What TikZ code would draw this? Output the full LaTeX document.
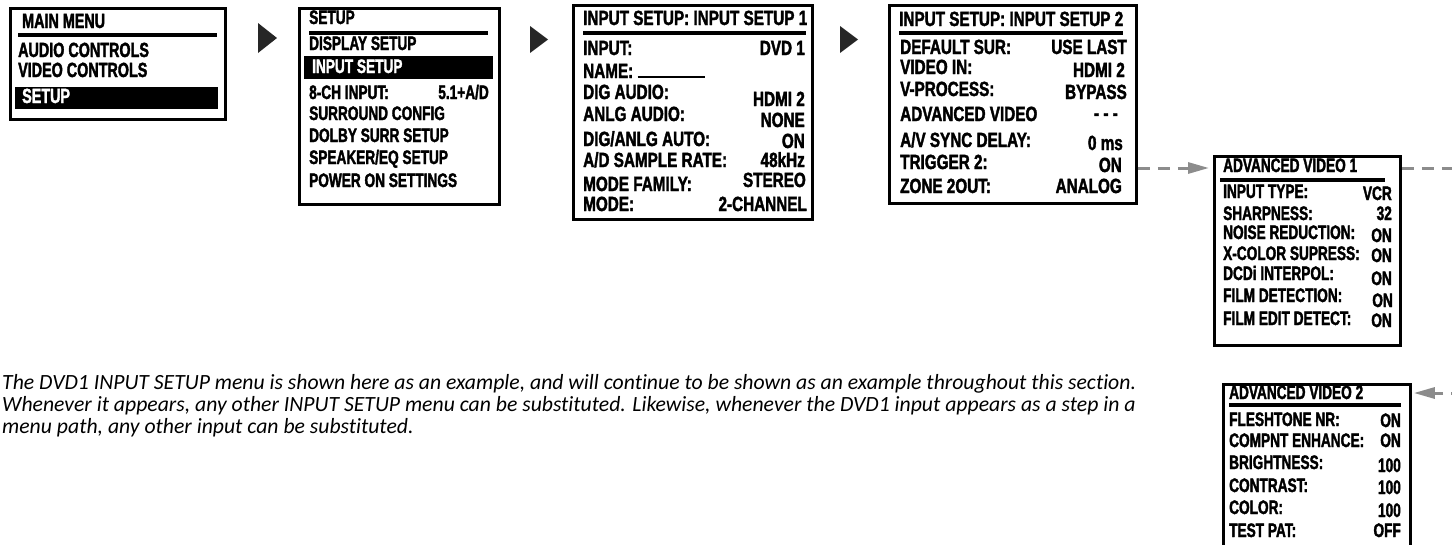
\documentclass[tikz,border=0pt]{standalone}
\usepackage{fontspec}
\usetikzlibrary{arrows.meta}
\newfontfamily\menuA{Liberation Sans Bold}[FakeStretch=0.70,FakeBold=1.8]
\newfontfamily\menuB{Liberation Sans Bold}[FakeStretch=0.745,FakeBold=1.8]
\newfontfamily\menuC{Liberation Sans Bold}[FakeStretch=0.70,FakeBold=1.8]
\newfontfamily\notefnt{Carlito}[Ligatures=NoCommon]
\definecolor{dashgray}{RGB}{140,140,140}
\def\mf{\menuA\fontsize{20}{20}\selectfont}
\tikzset{
  box/.style={draw, line width=2.8pt, inner sep=0, anchor=north west},
  hl/.style={fill=black, inner sep=0, anchor=north west},
  hdr/.style={line width=3.4pt},
  lab/.style={font=\mf, anchor=base west, inner sep=0},
  val/.style={font=\mf, anchor=base east, inner sep=0},
  tri/.style={fill=black!85},
  conn/.style={draw=dashgray, line width=3pt, dash pattern=on 12pt off 8pt},
  tip/.style={-{Triangle[length=21pt,width=11pt,fill=dashgray]}},
  note/.style={font=\notefnt\itshape\fontsize{21.7}{22}\selectfont, anchor=base west, inner sep=0}
}
\begin{document}
\begin{tikzpicture}[x=1pt,y=-1pt]
\useasboundingbox (0,0) rectangle (1452,544);
\clip (0,0) rectangle (1452,544);
% ---------- box 1
\def\mf{\menuA\fontsize{20.5}{20.5}\selectfont}
\node[box, minimum width=215pt, minimum height=111pt] (b1) at (9,7) {};
\node[hl, minimum width=203pt, minimum height=22pt] (h1) at (15,87) {};
\draw[hdr] (18,35) -- (217,35);
\node[lab] (m1) at (22,28) {MAIN MENU};
\node[lab] (m2) at (18,57) {AUDIO CONTROLS};
\node[lab] (m3) at (18,77) {VIDEO CONTROLS};
\node[lab, text=white] (m4) at (22,103) {SETUP};
\fill[tri] (258,23) -- (277,38) -- (258,53) -- cycle;
% ---------- box 2
\def\mf{\menuA\fontsize{19.5}{19.5}\selectfont}
\node[box, minimum width=200pt, minimum height=196pt] (b2) at (298,7) {};
\node[hl, minimum width=189pt, minimum height=23pt] (h2) at (304,56) {};
\draw[hdr] (309,33) -- (488,33);
\node[lab] (s0) at (309,24) {SETUP};
\node[lab] (s1) at (309,50) {DISPLAY SETUP};
\node[lab, text=white] (s2) at (312,73) {INPUT SETUP};
\node[lab] (s3) at (309,99) {8-CH INPUT:};
\node[val] (s3v) at (489,99) {5.1+A/D};
\node[lab] (s4) at (309,120) {SURROUND CONFIG};
\node[lab] (s5) at (309,142) {DOLBY SURR SETUP};
\node[lab] (s6) at (309,164) {SPEAKER/EQ SETUP};
\node[lab] (s7) at (309,187) {POWER ON SETTINGS};
\fill[tri] (530,26) -- (548,39.5) -- (530,53) -- cycle;
% ---------- box 3
\def\mf{\menuB\fontsize{20.5}{20.5}\selectfont}
\node[box, minimum width=239pt, minimum height=214pt] (b3) at (572,4) {};
\draw[hdr] (583,33) -- (806,33);
\node[lab] (i0) at (583,25) {INPUT SETUP: INPUT SETUP 1};
\node[lab] (i1) at (583,55) {INPUT:};
\node[val] (i1v) at (805,55) {DVD 1};
\node[lab] (i2) at (583,78) {NAME: \rule{67pt}{2.2pt}};
\node[lab] (i3) at (583,99) {DIG AUDIO:};
\node[val] (i3v) at (805,106) {HDMI 2};
\node[lab] (i4) at (583,121) {ANLG AUDIO:};
\node[val] (i4v) at (805,127) {NONE};
\node[lab] (i5) at (583,146) {DIG/ANLG AUTO:};
\node[val] (i5v) at (805,148) {ON};
\node[lab] (i6) at (583,167) {A/D SAMPLE RATE:};
\node[val] (i6v) at (805,167) {48kHz};
\node[lab] (i7) at (583,191) {MODE FAMILY:};
\node[val] (i7v) at (806,187) {STEREO};
\node[lab] (i8) at (583,211) {MODE:};
\node[val] (i8v) at (807,211) {2-CHANNEL};
\fill[tri] (840,26) -- (858,39.5) -- (840,53) -- cycle;
% ---------- box 4
\node[box, minimum width=247pt, minimum height=198pt] (b4) at (888,4) {};
\draw[hdr] (899,33) -- (1123,33);
\node[lab] (j0) at (899,26) {INPUT SETUP: INPUT SETUP 2};
\node[lab] (j1) at (900,54) {DEFAULT SUR:};
\node[val] (j1v) at (1127,54) {USE LAST};
\node[lab] (j2) at (900,74) {VIDEO IN:};
\node[val] (j2v) at (1125,77) {HDMI 2};
\node[lab] (j3) at (900,96) {V-PROCESS:};
\node[val] (j3v) at (1127,99) {BYPASS};
\node[lab] (j4) at (900,121) {ADVANCED VIDEO};
\node[val] (j4v) at (1118,120) {- - -};
\node[lab] (j5) at (900,147) {A/V SYNC DELAY:};
\node[val] (j5v) at (1123,150) {0 ms};
\node[lab] (j6) at (900,169) {TRIGGER 2:};
\node[val] (j6v) at (1122,172) {ON};
\node[lab] (j7) at (900,193) {ZONE 2OUT:};
\node[val] (j7v) at (1122,193) {ANALOG};
% ---------- box 5
\def\mf{\menuC\fontsize{19.5}{19.5}\selectfont}
\node[box, minimum width=186pt, minimum height=189pt] (b5) at (1213,155) {};
\draw[hdr] (1220,180) -- (1385,180);
\node[lab] (k0) at (1223,172) {ADVANCED VIDEO 1};
\node[lab] (k1) at (1223,198) {INPUT TYPE:};
\node[val] (k1v) at (1392,200) {VCR};
\node[lab] (k2) at (1223,220) {SHARPNESS:};
\node[val] (k2v) at (1392,220) {32};
\node[lab] (k3) at (1223,239) {NOISE REDUCTION:};
\node[val] (k3v) at (1392,242) {ON};
\node[lab] (k4) at (1223,260) {X-COLOR SUPRESS:};
\node[val] (k4v) at (1392,262) {ON};
\node[lab] (k5) at (1223,280) {DCDi INTERPOL:};
\node[val] (k5v) at (1392,285) {ON};
\node[lab] (k6) at (1223,302) {FILM DETECTION:};
\node[val] (k6v) at (1393,307) {ON};
\node[lab] (k7) at (1223,325) {FILM EDIT DETECT:};
\node[val] (k7v) at (1392,327) {ON};
% ---------- box 6
\node[box, minimum width=187pt, minimum height=190pt] (b6) at (1222,383) {};
\draw[hdr] (1229,405) -- (1401,405);
\node[lab] (l0) at (1229,399) {ADVANCED VIDEO 2};
\node[lab] (l1) at (1229,426) {FLESHTONE NR:};
\node[val] (l1v) at (1401,427) {ON};
\node[lab] (l2) at (1229,447) {COMPNT ENHANCE:};
\node[val] (l2v) at (1401,447) {ON};
\node[lab] (l3) at (1229,469) {BRIGHTNESS:};
\node[val] (l3v) at (1401,472) {100};
\node[lab] (l4) at (1229,492) {CONTRAST:};
\node[val] (l4v) at (1401,494) {100};
\node[lab] (l5) at (1229,514) {COLOR:};
\node[val] (l5v) at (1401,517) {100};
\node[lab] (l6) at (1229,537) {TEST PAT:};
\node[val] (l6v) at (1401,537) {OFF};
% ---------- connectors
\coordinate (r1) at (1470,168);
\coordinate (r2) at (1470,393);
\draw[conn, tip] (b4.east |- r1) -- ([xshift=-4pt]b5.west |- r1);
\draw[conn, tip] (b5.east |- r1) -- (r1) -- (r2) -- ([xshift=2pt]b6.east |- r2);
% ---------- note
\node[note] (p1) at (2,389) {The DVD1 INPUT SETUP menu is shown here as an example, and will continue to be shown as an example throughout this section.};
\node[note] (p2) at (2,411) {Whenever it appears, any other INPUT SETUP menu can be substituted. Likewise, whenever the DVD1 input appears as a step in a};
\node[note] (p3) at (2,433) {menu path, any other input can be substituted.};
\end{tikzpicture}
\end{document}
